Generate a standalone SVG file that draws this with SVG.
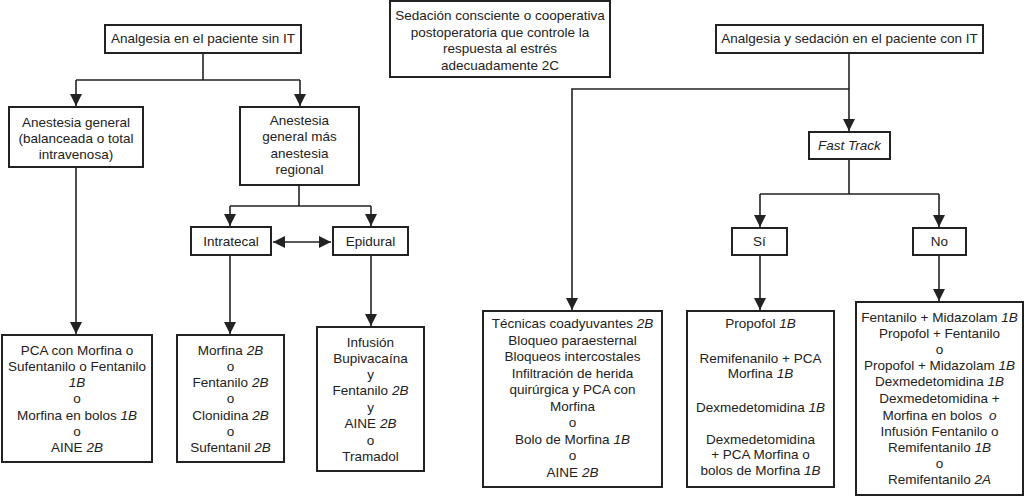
<svg xmlns="http://www.w3.org/2000/svg" width="1024" height="496" viewBox="0 0 1024 496">
<style>
.box{fill:#fff;stroke:#222;stroke-width:2}
.t{font-family:"Liberation Sans",Arial,sans-serif;font-size:13.5px;fill:#222;text-anchor:middle}
.i{font-style:italic}
.ln{fill:none;stroke:#222;stroke-width:1.6}
</style>
<defs>
<marker id="ah" markerUnits="userSpaceOnUse" markerWidth="12" markerHeight="12" refX="10" refY="5" orient="auto-start-reverse" viewBox="0 0 10 10">
<path d="M0,0 L10,5 L0,10 Z" fill="#222"/>
</marker>
</defs>
<rect width="1024" height="496" fill="#fff"/>
<g id="connectors">
<path class="ln" d="M203,53 V80 M76,80 H300"/>
<path class="ln" d="M76,80 V106" marker-end="url(#ah)"/>
<path class="ln" d="M300,80 V106" marker-end="url(#ah)"/>
<path class="ln" d="M299,185 V206 M230,206 H371"/>
<path class="ln" d="M230,206 V226" marker-end="url(#ah)"/>
<path class="ln" d="M371,206 V226" marker-end="url(#ah)"/>
<path class="ln" d="M273,242 H331" marker-start="url(#ah)" marker-end="url(#ah)"/>
<path class="ln" d="M76,167 V334" marker-end="url(#ah)"/>
<path class="ln" d="M230,255 V334" marker-end="url(#ah)"/>
<path class="ln" d="M371,255 V326" marker-end="url(#ah)"/>
<path class="ln" d="M849,53 V131" marker-end="url(#ah)"/>
<path class="ln" d="M849,89 H572 V310" marker-end="url(#ah)"/>
<path class="ln" d="M849,159 V194 M760,194 H939"/>
<path class="ln" d="M760,194 V227" marker-end="url(#ah)"/>
<path class="ln" d="M939,194 V227" marker-end="url(#ah)"/>
<path class="ln" d="M760,255 V310" marker-end="url(#ah)"/>
<path class="ln" d="M939,255 V301" marker-end="url(#ah)"/>
</g>
<g id="n_sinIT">
<rect class="box" x="105" y="25" width="196" height="28"/>
<text class="t" x="203" y="43">Analgesia en el paciente sin IT</text>
</g>
<g id="n_sedacion">
<rect class="box" x="390" y="1" width="220" height="76"/>
<text class="t" x="500" y="20">Sedación consciente o cooperativa</text>
<text class="t" x="500" y="37">postoperatoria que controle la</text>
<text class="t" x="500" y="53">respuesta al estrés</text>
<text class="t" x="500" y="70">adecuadamente 2C</text>
</g>
<g id="n_conIT">
<rect class="box" x="716" y="25" width="267" height="28"/>
<text class="t" x="849.5" y="43">Analgesia y sedación en el paciente con IT</text>
</g>
<g id="n_general">
<rect class="box" x="9" y="107" width="134" height="60"/>
<text class="t" x="76" y="127">Anestesia general</text>
<text class="t" x="76" y="143">(balanceada o total</text>
<text class="t" x="76" y="159">intravenosa)</text>
</g>
<g id="n_regional">
<rect class="box" x="240" y="107" width="119" height="78"/>
<text class="t" x="299.5" y="125">Anestesia</text>
<text class="t" x="299.5" y="141">general más</text>
<text class="t" x="299.5" y="158">anestesia</text>
<text class="t" x="299.5" y="174">regional</text>
</g>
<g id="n_intratecal">
<rect class="box" x="191" y="227" width="80" height="28"/>
<text class="t" x="231" y="246">Intratecal</text>
</g>
<g id="n_epidural">
<rect class="box" x="333" y="227" width="75" height="28"/>
<text class="t" x="370.5" y="246">Epidural</text>
</g>
<g id="n_fasttrack">
<rect class="box" x="809" y="132" width="81" height="27"/>
<text class="t i" x="849.5" y="150">Fast Track</text>
</g>
<g id="n_si">
<rect class="box" x="732" y="228" width="55" height="27"/>
<text class="t" x="759.5" y="246">Sí</text>
</g>
<g id="n_no">
<rect class="box" x="913" y="228" width="53" height="27"/>
<text class="t" x="939.5" y="246">No</text>
</g>
<g id="n_pca">
<rect class="box" x="2" y="335" width="150" height="127"/>
<text class="t" x="77" y="355">PCA con Morfina o</text>
<text class="t" x="77" y="371">Sufentanilo o Fentanilo</text>
<text class="t i" x="77" y="387">1B</text>
<text class="t" x="77" y="403">o</text>
<text class="t" x="77" y="420">Morfina en bolos <tspan class="i">1B</tspan></text>
<text class="t" x="77" y="436">o</text>
<text class="t" x="77" y="452">AINE <tspan class="i">2B</tspan></text>
</g>
<g id="n_morfina">
<rect class="box" x="177" y="335" width="107" height="127"/>
<text class="t" x="230.5" y="355">Morfina <tspan class="i">2B</tspan></text>
<text class="t" x="230.5" y="371">o</text>
<text class="t" x="230.5" y="387">Fentanilo <tspan class="i">2B</tspan></text>
<text class="t" x="230.5" y="403">o</text>
<text class="t" x="230.5" y="420">Clonidina <tspan class="i">2B</tspan></text>
<text class="t" x="230.5" y="436">o</text>
<text class="t" x="230.5" y="452">Sufentanil <tspan class="i">2B</tspan></text>
</g>
<g id="n_infusion">
<rect class="box" x="317" y="327" width="107" height="144"/>
<text class="t" x="370.5" y="347">Infusión</text>
<text class="t" x="370.5" y="363">Bupivacaína</text>
<text class="t" x="370.5" y="379">y</text>
<text class="t" x="370.5" y="395">Fentanilo <tspan class="i">2B</tspan></text>
<text class="t" x="370.5" y="412">y</text>
<text class="t" x="370.5" y="428">AINE <tspan class="i">2B</tspan></text>
<text class="t" x="370.5" y="445">o</text>
<text class="t" x="370.5" y="461">Tramadol</text>
</g>
<g id="n_tecnicas">
<rect class="box" x="483" y="311" width="179" height="176"/>
<text class="t" x="572.5" y="328">Técnicas coadyuvantes <tspan class="i">2B</tspan></text>
<text class="t" x="572.5" y="344.5">Bloqueo paraesternal</text>
<text class="t" x="572.5" y="361">Bloqueos intercostales</text>
<text class="t" x="572.5" y="377.5">Infiltración de herida</text>
<text class="t" x="572.5" y="394">quirúrgica y PCA con</text>
<text class="t" x="572.5" y="410.5">Morfina</text>
<text class="t" x="572.5" y="427">o</text>
<text class="t" x="572.5" y="443.5">Bolo de Morfina <tspan class="i">1B</tspan></text>
<text class="t" x="572.5" y="460">o</text>
<text class="t" x="572.5" y="476.5">AINE <tspan class="i">2B</tspan></text>
</g>
<g id="n_propofol">
<rect class="box" x="687" y="311" width="147" height="176"/>
<text class="t" x="760.5" y="328">Propofol <tspan class="i">1B</tspan></text>
<text class="t" x="760.5" y="363">Remifenanilo + PCA</text>
<text class="t" x="760.5" y="378">Morfina <tspan class="i">1B</tspan></text>
<text class="t" x="760.5" y="412">Dexmedetomidina <tspan class="i">1B</tspan></text>
<text class="t" x="760.5" y="444">Dexmedetomidina</text>
<text class="t" x="760.5" y="459">+ PCA Morfina o</text>
<text class="t" x="760.5" y="475">bolos de Morfina <tspan class="i">1B</tspan></text>
</g>
<g id="n_fentanilo">
<rect class="box" x="856" y="302" width="167" height="193"/>
<text class="t" x="939.5" y="322">Fentanilo + Midazolam <tspan class="i">1B</tspan></text>
<text class="t" x="939.5" y="338">Propofol + Fentanilo</text>
<text class="t" x="939.5" y="354">o</text>
<text class="t" x="939.5" y="370">Propofol + Midazolam <tspan class="i">1B</tspan></text>
<text class="t" x="939.5" y="386">Dexmedetomidina <tspan class="i">1B</tspan></text>
<text class="t" x="939.5" y="403">Dexmedetomidina +</text>
<text class="t" x="939.5" y="420">Morfina en bolos <tspan class="i" dx="3">o</tspan></text>
<text class="t" x="939.5" y="436">Infusión Fentanilo o</text>
<text class="t" x="939.5" y="452">Remifentanilo <tspan class="i">1B</tspan></text>
<text class="t" x="939.5" y="468">o</text>
<text class="t" x="939.5" y="484">Remifentanilo <tspan class="i">2A</tspan></text>
</g>
</svg>
